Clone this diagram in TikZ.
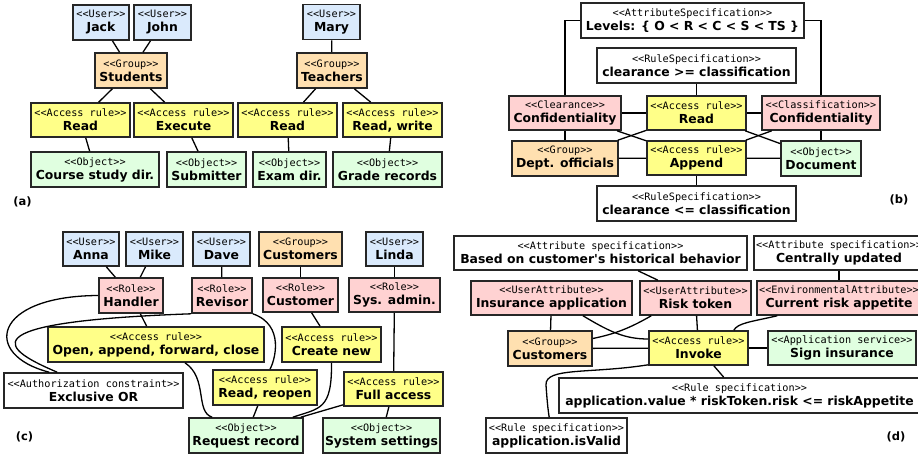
\documentclass[tikz,border=0pt]{standalone}
\usepackage{fontspec}
\setmainfont{DejaVu Sans}
\newfontfamily\plainf{DejaVu Sans}
\newfontfamily\monof{DejaVu Sans Mono}
\usetikzlibrary{calc}
\definecolor{cuser}{HTML}{DAEAFC}
\definecolor{cgrp}{HTML}{FFE0B0}
\definecolor{crule}{HTML}{FFFF88}
\definecolor{cobj}{HTML}{E0FFE0}
\definecolor{crole}{HTML}{FFD2D2}
\newcommand\ster[1]{{\monof\mdseries\fontsize{10.2}{14}\selectfont <{}<#1>{}>}}
\newcommand\mkbox[8]{\node[#1, minimum width=#5pt, minimum height=#6pt] (#2) at (#3,#4) {\ster{#7}\\#8};}
\tikzset{
 box/.style={draw=black!85, line width=1.6pt, align=center, inner xsep=1pt, inner ysep=0pt, font=\plainf\fontsize{12.4}{14}\selectfont\bfseries},
 user/.style={box, fill=cuser},
 grp/.style={box, fill=cgrp},
 rule/.style={box, fill=crule},
 obj/.style={box, fill=cobj},
 role/.style={box, fill=crole},
 spec/.style={box, fill=white},
 conn/.style={line width=1.3pt, black},
 lbl/.style={font=\plainf\fontsize{11.5}{13}\selectfont\bfseries, inner sep=0pt}
}
\begin{document}
\begin{tikzpicture}[x=1pt,y=-1pt]
\fill[white] (0,0) rectangle (918,457);
\useasboundingbox (0,0) rectangle (918,457);
% (a)
\mkbox{user}{jack}{101}{22.5}{56}{35}{User}{Jack}
\mkbox{user}{john}{162.5}{22.5}{57}{35}{User}{John}
\mkbox{grp}{students}{131}{70.5}{72}{35}{Group}{Students}
\mkbox{rule}{readA}{80.5}{120}{99}{34}{Access rule}{Read}
\mkbox{rule}{execute}{183.5}{120}{99}{34}{Access rule}{Execute}
\mkbox{obj}{course}{95}{169.5}{128}{35}{Object}{Course study dir.}
\mkbox{obj}{submitter}{206.5}{169.5}{79}{35}{Object}{Submitter}
\mkbox{user}{mary}{331.5}{22}{57}{35}{User}{Mary}
\mkbox{grp}{teachers}{332}{70.5}{70}{35}{Group}{Teachers}
\mkbox{rule}{readT}{287.5}{120}{99}{34}{Access rule}{Read}
\mkbox{rule}{readwrite}{392.5}{120}{99}{34}{Access rule}{Read, write}
\mkbox{obj}{examdir}{289.5}{169.5}{73}{35}{Object}{Exam dir.}
\mkbox{obj}{grade}{387.5}{169.5}{109}{35}{Object}{Grade records}
\draw[conn] (jack) -- (students);
\draw[conn] (john) -- (students);
\draw[conn] (students) -- (readA);
\draw[conn] (students) -- (execute);
\draw[conn] (readA) -- (course);
\draw[conn] (execute) -- (submitter);
\draw[conn] (mary) -- (teachers);
\draw[conn] (teachers) -- (readT);
\draw[conn] (teachers) -- (readwrite);
\draw[conn] (readT) -- (examdir);
\draw[conn] (readwrite) -- (grade);
\node[lbl] (la) at (22.5,202) {(a)};
% (b)
\mkbox{spec}{levels}{692.5}{20.5}{223}{35}{AttributeSpecification}{Levels: \{ O < R < C < S < TS \}}
\mkbox{spec}{ge}{696.5}{65.5}{199}{35}{RuleSpecification}{clearance >= classification}
\mkbox{role}{clear}{565}{113}{112}{34}{Clearance}{Confidentiality}
\mkbox{rule}{readB}{696.5}{113}{99}{34}{Access rule}{Read}
\mkbox{role}{classif}{821}{113}{118}{34}{Classification}{Confidentiality}
\mkbox{grp}{dept}{565}{158.5}{106}{35}{Group}{Dept. officials}
\mkbox{rule}{append}{696.5}{158}{99}{34}{Access rule}{Append}
\mkbox{obj}{document}{821}{158.5}{80}{35}{Object}{Document}
\mkbox{spec}{le}{696.5}{203.5}{199}{35}{RuleSpecification}{clearance <= classification}
\draw[conn] (levels.west) -| (clear.north);
\draw[conn] (levels.east) -| (classif.north);
\draw[conn] (ge) -- (readB);
\draw[conn] (clear) -- (readB);
\draw[conn] (readB) -- (classif);
\draw[conn] (clear) -- (dept);
\draw[conn] (classif) -- (document);
\draw[conn] (dept) -- (append);
\draw[conn] (append) -- (document);
\draw[conn] (append) -- (le);
\draw[conn] (clear) -- (append);
\draw[conn] (dept) -- (readB);
\draw[conn] (readB) -- (document);
\draw[conn] (classif) -- (append);
\node[lbl] (lb) at (899,200) {(b)};
% (c)
\mkbox{user}{anna}{91}{249}{56}{34}{User}{Anna}
\mkbox{user}{mike}{154.5}{249}{57}{34}{User}{Mike}
\mkbox{user}{dave}{221.5}{249}{57}{34}{User}{Dave}
\mkbox{grp}{custgrp}{300.5}{249}{83}{34}{Group}{Customers}
\mkbox{user}{linda}{394.5}{249}{57}{34}{User}{Linda}
\mkbox{role}{handler}{131}{295.5}{64}{35}{Role}{Handler}
\mkbox{role}{revisor}{222}{295.5}{60}{35}{Role}{Revisor}
\mkbox{role}{customer}{300.5}{295}{75}{34}{Role}{Customer}
\mkbox{role}{sysadmin}{394.5}{295}{91}{34}{Role}{Sys. admin.}
\mkbox{rule}{open}{156}{344.5}{216}{35}{Access rule}{Open, append, forward, close}
\mkbox{rule}{createnew}{331.5}{344.5}{99}{35}{Access rule}{Create new}
\mkbox{spec}{xor}{93.5}{390.5}{179}{35}{Authorization constraint}{Exclusive OR}
\mkbox{rule}{readreopen}{265}{387.5}{104}{35}{Access rule}{Read, reopen}
\mkbox{rule}{fullaccess}{393.5}{389}{99}{34}{Access rule}{Full access}
\mkbox{obj}{request}{246}{435.5}{114}{35}{Object}{Request record}
\mkbox{obj}{syssettings}{381.5}{435.5}{117}{35}{Object}{System settings}
\draw[conn] (anna) -- (handler);
\draw[conn] (mike) -- (handler);
\draw[conn] (dave) -- (revisor);
\draw[conn] (custgrp) -- (customer);
\draw[conn] (linda) -- (sysadmin);
\draw[conn] (handler) -- (open);
\draw[conn] (customer) -- (createnew);
\draw[conn] (sysadmin) -- (fullaccess);
\draw[conn] (fullaccess) -- (syssettings);
\draw[conn] (readreopen) -- (request);
\draw[conn] (handler.west) .. controls (-8,296) and (-18,355) .. ($(xor.north west)+(46,0)$);
\draw[conn] (revisor.south west) .. controls (-40,322) and (5,350) .. ($(xor.north west)+(54,0)$);
\draw[conn] (revisor.south east) .. controls (285,325) and (275,360) .. ($(readreopen.north)+(5,0)$);
\draw[conn] ($(open.south)+(29,0)$) .. controls (208,378) and (195,412) .. ($(request.north west)+(24,0)$);
\draw[conn] (createnew.south) .. controls (332,410) and (320,408) .. ($(request.north east)+(-11,0)$);
\draw[conn] ($(fullaccess.south west)+(0,-2)$) -- ($(request.north east)+(-3,0)$);
\node[lbl] (lc) at (24.5,437) {(c)};
% (d)
\mkbox{spec}{based}{600.5}{253}{293}{34}{Attribute specification}{Based on customer's historical behavior}
\mkbox{spec}{central}{839}{253}{170}{34}{Attribute specification}{Centrally updated}
\mkbox{role}{insapp}{551.5}{298}{161}{34}{UserAttribute}{Insurance application}
\mkbox{role}{risk}{695.5}{298}{111}{34}{UserAttribute}{Risk token}
\mkbox{role}{current}{839}{298}{164}{34}{EnvironmentalAttribute}{Current risk appetite}
\mkbox{grp}{custD}{550}{348.5}{84}{35}{Group}{Customers}
\mkbox{rule}{invoke}{698.5}{348}{99}{34}{Access rule}{Invoke}
\mkbox{obj}{sign}{842}{348}{148}{34}{Application service}{Sign insurance}
\mkbox{spec}{appvalue}{739.5}{395.5}{361}{35}{Rule specification}{application.value * riskToken.risk <= riskAppetite}
\mkbox{spec}{isvalid}{556.5}{435.5}{141}{35}{Rule specification}{application.isValid}
\draw[conn] (based) -- (risk);
\draw[conn] (central) -- (current);
\draw[conn] (insapp) -- (custD);
\draw[conn] (risk) -- (invoke);
\draw[conn] (custD) -- (invoke);
\draw[conn] (invoke) -- (sign);
\draw[conn] (invoke) -- (appvalue);
\draw[conn] ($(insapp.south)+(31.5,0)$) .. controls (610,332) and (625,339) .. ($(invoke.west)+(0,-9)$);
\draw[conn] ($(risk.south west)+(12,0)$) .. controls (630,328) and (615,334) .. ($(custD.east)+(0,-10)$);
\draw[conn] ($(current.south west)+(21,0)$) .. controls (750,322) and (738,323) .. ($(invoke.north east)+(-15,0)$);
\draw[conn] ($(invoke.south west)+(0,-1)$) .. controls (590,374) and (545,367) .. (546,385) .. controls (547,400) and (548,410) .. ($(isvalid.north west)+(64,0)$);
\node[lbl] (ld) at (896,437) {(d)};
\end{tikzpicture}
\end{document}
